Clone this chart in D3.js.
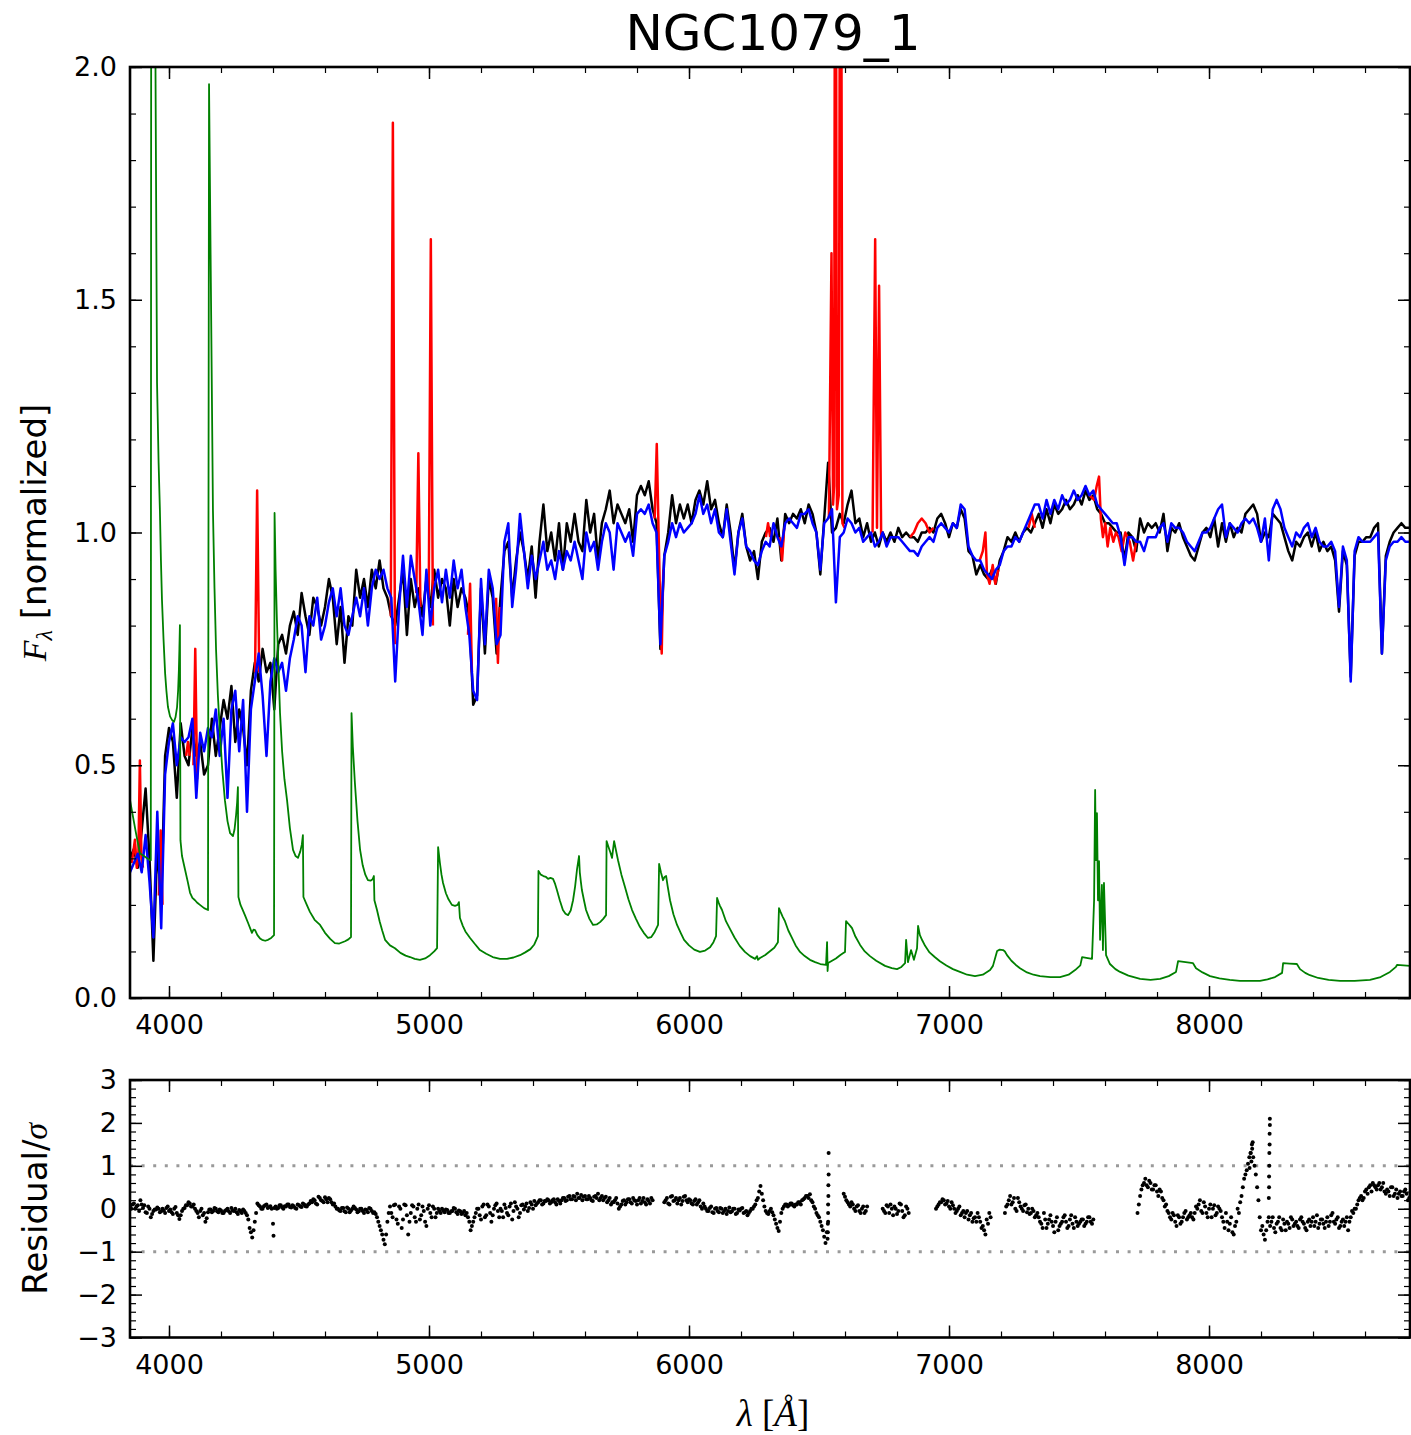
<!DOCTYPE html>
<html>
<head>
<meta charset="utf-8">
<script src="https://cdn.jsdelivr.net/npm/d3@7"></script>
<style>
  html, body { margin: 0; padding: 0; background: #fff; }
  svg { display: block; }
</style>
</head>
<body>
<svg id="chart" width="1411" height="1435"></svg>
<script>
// ---------------------------------------------------------------
// Spectral fit of NGC1079_1: observed spectrum, stellar fit, gas
// emission fit, noise spectrum and normalised residuals.
// ---------------------------------------------------------------

// Wavelength grid of the observed spectrum and stellar fit [Angstrom]
const waveStart = 3850;
const waveStep = 15;

// Observed spectrum (normalised flux)
const observedFlux = [
  0.30,0.32,0.28,0.36,0.45,0.30,0.08,0.33,0.20,0.52,
  0.58,0.55,0.43,0.59,0.52,0.50,0.58,0.52,0.55,0.48,
  0.50,0.60,0.52,0.58,0.64,0.60,0.67,0.55,0.62,0.58,
  0.50,0.66,0.72,0.68,0.75,0.70,0.72,0.62,0.76,0.78,
  0.74,0.80,0.83,0.78,0.87,0.82,0.78,0.86,0.84,0.80,
  0.84,0.90,0.86,0.76,0.84,0.72,0.82,0.80,0.92,0.86,
  0.90,0.84,0.92,0.88,0.94,0.88,0.86,0.82,0.80,0.86,
  0.92,0.78,0.90,0.84,0.88,0.82,0.90,0.84,0.92,0.86,
  0.90,0.88,0.80,0.90,0.84,0.88,0.86,0.82,0.63,0.65,
  0.88,0.74,0.90,0.86,0.74,0.86,0.96,0.98,0.86,0.94,
  1.00,0.96,0.90,0.97,0.86,0.98,1.06,0.96,1.00,0.94,
  1.02,0.92,1.02,0.98,1.04,0.98,0.96,1.07,1.00,1.04,
  0.94,1.02,1.05,1.09,1.02,1.06,1.04,1.02,1.05,0.98,
  1.08,1.10,1.08,1.11,1.05,1.02,0.75,0.95,1.00,1.08,
  1.02,1.06,1.03,1.06,1.02,1.07,1.09,1.06,1.11,1.05,
  1.07,1.02,0.99,1.06,1.00,0.92,1.00,1.04,0.97,0.94,
  0.96,0.90,0.98,1.00,1.01,0.98,1.03,0.94,1.04,1.02,
  1.04,1.03,1.05,1.02,1.06,1.04,1.00,0.91,1.03,1.15,
  1.00,1.01,1.04,1.02,1.06,1.09,1.02,1.03,0.99,1.02,
  0.98,1.00,0.97,1.00,0.98,1.00,0.98,1.01,0.99,1.00,
  0.99,0.99,0.98,1.00,1.00,1.01,1.00,1.03,1.04,1.02,
  0.99,1.02,1.01,1.05,1.03,0.96,0.95,0.91,0.93,0.91,
  0.90,0.92,0.89,0.94,0.96,0.99,0.98,1.00,0.98,1.00,
  1.01,1.00,1.02,1.04,1.01,1.05,1.02,1.06,1.04,1.05,
  1.07,1.05,1.06,1.08,1.06,1.09,1.07,1.08,1.05,1.04,
  1.02,1.02,1.01,1.00,1.00,0.94,1.00,0.99,0.96,1.03,
  1.00,1.02,1.01,1.02,1.00,1.04,0.96,1.01,1.00,1.02,
  0.99,0.97,0.95,0.94,0.97,1.00,1.01,0.99,1.03,0.97,
  1.02,0.98,1.02,0.99,1.01,1.00,1.04,1.05,1.06,1.04,
  0.98,1.00,0.99,1.04,1.03,1.02,0.99,0.96,0.94,0.98,
  0.97,0.99,1.00,0.97,1.00,0.96,0.98,0.96,0.97,0.94,
  0.83,0.96,0.93,0.69,0.95,0.98,0.98,0.99,0.99,1.01,
  1.02,0.74,0.95,0.98,1.00,1.01,1.02,1.01,1.01
];

// Best-fitting stellar continuum (same grid)
const stellarFit = [
  0.27,0.29,0.31,0.27,0.35,0.25,0.13,0.40,0.15,0.48,
  0.55,0.59,0.50,0.56,0.55,0.56,0.60,0.43,0.57,0.53,
  0.58,0.56,0.62,0.52,0.60,0.43,0.62,0.66,0.53,0.64,
  0.40,0.62,0.68,0.74,0.65,0.52,0.68,0.73,0.70,0.72,
  0.66,0.73,0.77,0.82,0.80,0.70,0.82,0.80,0.86,0.77,
  0.80,0.85,0.88,0.82,0.88,0.80,0.78,0.82,0.86,0.82,
  0.88,0.80,0.88,0.92,0.90,0.92,0.88,0.86,0.68,0.84,
  0.95,0.84,0.95,0.90,0.85,0.78,0.92,0.80,0.88,0.92,
  0.85,0.92,0.86,0.94,0.88,0.92,0.84,0.78,0.66,0.64,
  0.90,0.76,0.92,0.88,0.76,0.78,0.98,1.02,0.84,0.92,
  1.04,0.96,0.88,0.95,0.90,0.94,0.98,0.92,0.94,0.90,
  0.96,0.92,0.96,0.94,0.98,0.94,0.90,1.00,0.96,0.98,
  0.92,0.98,1.02,1.00,0.92,1.02,1.00,0.98,1.00,0.95,
  1.04,1.05,1.04,1.06,1.02,1.00,0.76,0.95,0.98,1.02,
  0.99,1.02,1.00,1.01,1.02,1.04,1.08,1.04,1.06,1.02,
  1.05,1.00,0.99,1.05,0.98,0.91,1.00,1.03,0.97,0.96,
  0.94,0.93,0.96,0.98,0.97,1.02,0.99,0.97,1.02,1.03,
  1.02,1.01,1.04,1.04,1.05,1.02,1.00,0.92,1.02,1.03,
  1.05,0.85,0.99,1.00,1.03,1.02,1.00,1.01,0.98,0.99,
  1.00,0.97,0.98,1.00,0.97,0.99,0.99,0.99,0.98,0.97,
  0.96,0.96,0.95,0.97,0.98,0.99,0.98,1.01,1.02,1.01,
  1.00,1.02,1.01,1.06,1.05,0.97,0.95,0.94,0.94,0.92,
  0.91,0.90,0.92,0.93,0.96,0.97,0.97,0.99,0.98,1.00,
  1.02,1.04,1.06,1.06,1.03,1.07,1.04,1.07,1.05,1.08,
  1.06,1.07,1.09,1.07,1.08,1.10,1.08,1.09,1.06,1.05,
  1.04,1.03,1.02,1.02,0.99,0.93,0.99,0.99,0.98,0.98,
  0.96,0.99,0.99,0.99,1.01,1.02,0.98,1.02,1.01,1.01,
  1.00,0.98,0.97,0.96,0.98,1.00,1.00,1.01,1.03,1.05,
  1.06,0.99,1.02,1.01,1.00,1.02,1.03,1.02,1.03,1.01,
  0.98,1.03,0.94,1.05,1.07,1.05,1.01,0.99,0.97,1.00,
  0.99,1.01,1.02,0.99,1.01,0.98,0.97,0.97,0.98,0.96,
  0.84,0.97,0.94,0.68,0.96,0.99,0.98,0.98,0.98,0.99,
  1.00,0.74,0.94,0.97,0.98,0.98,0.99,0.98,0.98
];

// Total fit (stars + gas) around the emission lines, [wavelength, flux]
const gasFitSegments = [
  [[3856,0.29],[3862,0.31],[3869,0.34],[3876,0.28],[3882,0.30],[3888,0.51],[3894,0.30],[3900,0.28]],
  [[3961,0.22],[3968,0.36],[3975,0.20]],
  [[4066,0.52],[4073,0.55],[4080,0.52]],
  [[4094,0.50],[4101,0.75],[4108,0.47]],
  [[4331,0.70],[4339,1.09],[4347,0.70]],
  [[4853,0.82],[4861,1.88],[4869,0.76]],
  [[4951,0.87],[4959,1.17],[4967,0.84]],
  [[4999,0.86],[5007,1.63],[5015,0.80]],
  [[5150,0.78],[5158,0.89],[5165,0.70]],
  [[5258,0.86],[5265,0.72],[5272,0.84]],
  [[5868,1.03],[5876,1.19],[5883,1.00],[5889,0.85],[5895,0.74],[5901,0.92]],
  [[6296,0.99],[6304,1.02],[6312,0.99]],
  [[6350,0.99],[6358,0.94],[6366,1.01]],
  [[6538,1.03],[6548,1.60],[6554,1.06],[6558,1.10],[6563,3.00],[6569,1.05],[6576,1.08],[6583,3.00],[6590,1.02],[6598,1.01]],
  [[6706,1.00],[6716,1.63],[6723,1.01],[6731,1.53],[6739,0.99]],
  [[6850,0.99],[6865,1.00],[6880,1.02],[6895,1.03],[6910,1.02],[6925,1.00],[6940,1.01]],
  [[7118,0.94],[7130,0.96],[7140,1.00],[7146,0.91],[7156,0.89],[7168,0.93],[7178,0.89],[7190,0.92]],
  [[7306,1.01],[7318,1.04],[7330,1.01]],
  [[7540,1.08],[7558,1.07],[7568,1.10],[7577,1.12],[7584,1.03],[7592,0.99],[7601,1.02],[7610,0.97],
   [7620,1.01],[7632,0.98],[7642,1.00],[7652,0.99],[7664,0.96],[7678,1.00],[7695,0.98],[7708,0.94],[7720,0.98]]
];

// Noise spectrum, [wavelength, flux]
const noiseSpectrum = [
  [3850,0.425],[3873,0.354],[3888,0.311],[3927,0.296],[3930,0.296],[3932,2.8],[3941,2.8],[3954,1.321],
  [3960,1.15],[3965,1.048],[3969,0.94],[3973,0.855],[3979,0.77],[3985,0.698],[3990,0.66],[3996,0.625],
  [4004,0.605],[4012,0.597],[4019,0.593],[4025,0.603],[4031,0.625],[4035,0.66],[4038,0.705],[4040,0.75],
  [4042,0.801],[4044,0.339],[4050,0.305],[4062,0.275],[4072,0.25],[4081,0.226],[4090,0.215],[4100,0.21],
  [4110,0.204],[4119,0.2],[4135,0.193],[4150,0.189],[4154,1.963],[4169,1.048],[4175,0.88],[4181,0.748],
  [4188,0.65],[4196,0.569],[4205,0.49],[4215,0.425],[4225,0.38],[4235,0.354],[4246,0.348],[4252,0.362],
  [4258,0.393],[4262,0.42],[4265,0.453],[4267,0.217],[4275,0.20],[4283,0.19],[4292,0.178],[4305,0.16],
  [4319,0.14],[4325,0.147],[4331,0.146],[4340,0.135],[4350,0.128],[4358,0.125],[4370,0.123],[4381,0.125],
  [4393,0.129],[4404,0.135],[4406,1.042],[4410,0.92],[4415,0.812],[4421,0.71],[4427,0.612],[4435,0.53],
  [4444,0.47],[4454,0.425],[4465,0.365],[4477,0.318],[4487,0.305],[4496,0.301],[4505,0.315],[4511,0.33],
  [4515,0.35],[4517,0.217],[4530,0.2],[4542,0.185],[4560,0.168],[4581,0.157],[4600,0.14],[4620,0.127],
  [4638,0.118],[4655,0.117],[4677,0.122],[4690,0.126],[4700,0.131],[4702,0.612],[4707,0.54],[4715,0.462],
  [4725,0.38],[4735,0.318],[4745,0.285],[4755,0.265],[4765,0.253],[4775,0.252],[4783,0.255],[4788,0.262],
  [4790,0.21],[4800,0.189],[4810,0.165],[4820,0.145],[4831,0.125],[4850,0.113],[4869,0.107],[4890,0.097],
  [4910,0.091],[4927,0.088],[4945,0.084],[4965,0.082],[4985,0.085],[5004,0.092],[5020,0.1],[5031,0.107],
  [5035,0.324],[5042,0.29],[5048,0.265],[5054,0.247],[5065,0.225],[5075,0.212],[5088,0.2],[5100,0.198],
  [5110,0.2],[5115,0.206],[5119,0.172],[5130,0.155],[5140,0.143],[5158,0.129],[5175,0.117],[5196,0.103],
  [5220,0.095],[5245,0.088],[5273,0.084],[5300,0.084],[5325,0.087],[5350,0.092],[5370,0.098],[5390,0.105],
  [5405,0.115],[5419,0.133],[5421,0.273],[5430,0.265],[5440,0.262],[5450,0.26],[5458,0.256],[5467,0.258],
  [5477,0.256],[5485,0.245],[5492,0.232],[5503,0.21],[5515,0.189],[5525,0.181],[5535,0.178],[5545,0.188],
  [5554,0.21],[5562,0.24],[5569,0.275],[5577,0.305],[5580,0.27],[5584,0.25],[5588,0.232],[5596,0.21],
  [5604,0.189],[5617,0.17],[5631,0.157],[5645,0.158],[5658,0.163],[5670,0.17],[5681,0.178],[5683,0.337],
  [5690,0.325],[5698,0.312],[5704,0.301],[5708,0.32],[5712,0.337],[5718,0.32],[5727,0.296],[5740,0.265],
  [5754,0.238],[5767,0.212],[5781,0.189],[5796,0.17],[5811,0.153],[5826,0.14],[5842,0.129],[5855,0.131],
  [5868,0.142],[5881,0.157],[5885,0.288],[5892,0.27],[5900,0.253],[5906,0.26],[5912,0.262],[5918,0.24],
  [5927,0.21],[5940,0.18],[5954,0.157],[5968,0.14],[5981,0.125],[6000,0.113],[6020,0.104],[6042,0.099],
  [6062,0.102],[6081,0.109],[6094,0.12],[6104,0.133],[6108,0.215],[6114,0.205],[6119,0.198],[6127,0.189],
  [6142,0.165],[6158,0.148],[6175,0.13],[6195,0.112],[6215,0.099],[6235,0.09],[6254,0.084],[6262,0.09],
  [6265,0.082],[6273,0.086],[6292,0.092],[6310,0.1],[6328,0.108],[6342,0.12],[6346,0.193],[6352,0.185],
  [6360,0.175],[6369,0.165],[6382,0.145],[6396,0.129],[6410,0.113],[6427,0.099],[6445,0.09],[6465,0.082],
  [6485,0.077],[6505,0.073],[6527,0.071],[6531,0.12],[6533,0.058],[6535,0.075],[6550,0.08],[6565,0.085],
  [6581,0.092],[6592,0.096],[6600,0.099],[6604,0.165],[6612,0.16],[6620,0.155],[6627,0.15],[6640,0.132],
  [6658,0.114],[6676,0.1],[6696,0.09],[6720,0.08],[6754,0.069],[6780,0.064],[6800,0.062],[6815,0.066],
  [6831,0.075],[6835,0.125],[6842,0.077],[6854,0.103],[6865,0.082],[6877,0.107],[6881,0.155],[6888,0.135],
  [6897,0.124],[6908,0.112],[6925,0.098],[6945,0.088],[6965,0.079],[6990,0.07],[7015,0.062],[7042,0.056],
  [7070,0.05],[7100,0.047],[7130,0.05],[7158,0.06],[7169,0.069],[7185,0.101],[7195,0.104],[7208,0.103],
  [7215,0.1],[7223,0.092],[7240,0.08],[7257,0.071],[7273,0.064],[7300,0.055],[7325,0.05],[7350,0.047],
  [7390,0.045],[7427,0.045],[7460,0.05],[7485,0.06],[7505,0.07],[7512,0.088],[7550,0.084],[7558,0.21],
  [7562,0.447],[7565,0.296],[7569,0.397],[7573,0.21],[7577,0.294],[7581,0.125],[7588,0.243],[7592,0.103],
  [7596,0.247],[7604,0.092],[7619,0.073],[7640,0.062],[7658,0.056],[7690,0.048],[7735,0.041],[7775,0.039],
  [7812,0.041],[7845,0.047],[7873,0.056],[7881,0.079],[7910,0.077],[7938,0.075],[7950,0.064],[7975,0.055],
  [8004,0.047],[8040,0.042],[8080,0.039],[8119,0.037],[8160,0.037],[8196,0.037],[8225,0.04],[8254,0.045],
  [8281,0.054],[8285,0.075],[8310,0.074],[8338,0.073],[8350,0.062],[8370,0.054],[8388,0.049],[8420,0.043],
  [8460,0.039],[8504,0.037],[8560,0.037],[8619,0.039],[8660,0.045],[8696,0.056],[8719,0.067],[8723,0.071],
  [8777,0.069]
];

// Residuals (data - fit)/sigma, one block per unmasked range, 10 A step
const residualStep = 10;
const residualSegments = [
  { start: 3850, values: [
    0.05,0.10,0.00,0.08,0.20,0.02,-0.08,0.05,-0.20,-0.05,
    -0.02,0.00,-0.06,-0.04,0.02,-0.05,-0.08,0.00,-0.10,-0.24,-0.05,
    0.02,0.08,0.12,0.05,0.00,
    -0.10,-0.05,-0.15,-0.30,-0.08,-0.02,
    -0.05,0.00,-0.08,-0.04,-0.10,-0.03,-0.06,0.02,-0.05,-0.08,-0.03,-0.10,-0.05,-0.15,
    -0.45,-0.67,-0.30,0.12,
    0.05,0.00,0.08,0.02,0.06,
    -0.35,
    0.05,0.02,0.08,0.00,0.05,0.10,0.03,0.06,0.00,0.08,0.04,0.10,0.05,0.12,
    0.15,0.20,0.10,0.25,0.18,0.27,0.15,0.22,0.10,0.05,
    0.00,-0.05,0.02,-0.08,0.00,-0.04,0.05,-0.02,-0.06,0.00,-0.10,-0.03,0.02,-0.05,-0.08,-0.20,
    -0.40,-0.60,-0.83,-0.30,
    0.05,-0.20,0.10,-0.35,0.00,-0.25,0.08,-0.60,-0.10,0.05,-0.30,0.10,-0.15,-0.05,-0.40,0.08,-0.20,0.00,-0.10,
    -0.05,0.00,-0.08,-0.03,-0.10,-0.05,0.00,-0.12,-0.06,-0.10,-0.15,-0.20,
    -0.50,-0.30,-0.10,
    0.00,-0.25,0.10,-0.15,0.05,-0.30,0.00,0.12,-0.20,-0.05,0.10,-0.10,0.05,-0.25,0.15,0.00,-0.10,0.10,0.05,-0.05,0.15,0.00,0.08,
    0.15,0.20,0.12,0.18,0.20,0.15,0.22,0.10,0.18,0.20,
    0.25,0.20,0.30,0.22,0.28,0.35,0.25,0.20,0.30,0.22,0.25,0.18,0.30,0.35,0.25,0.20,0.28,
    0.20,0.10,0.15,0.25,0.00,0.10,0.20,0.15,0.22,0.12,0.20,0.10,0.25,0.18,0.15,0.22,0.12,0.20 ] },
  { start: 3855, values: [
    0.00,0.12,0.05,-0.05,0.10,0.08,-0.10,0.00,-0.12,-0.02,
    0.03,-0.08,0.00,-0.10,0.05,-0.02,-0.12,0.04,-0.15,-0.15,0.00,
    0.08,0.15,0.05,0.10,-0.05,
    -0.20,0.00,-0.10,-0.22,-0.02,-0.08,
    0.02,-0.06,-0.02,-0.10,-0.05,0.00,-0.10,-0.04,0.00,-0.12,-0.06,-0.02,-0.10,-0.25,
    -0.55,-0.50,-0.10,0.08,
    0.00,0.06,0.10,0.04,0.00,
    0.02,
    0.00,0.08,0.03,0.06,0.10,0.04,0.08,0.02,0.10,0.05,0.12,0.06,0.10,0.18,
    0.22,0.12,0.28,0.20,0.15,0.22,0.25,0.15,0.12,0.00,
    -0.04,0.02,-0.06,0.03,-0.08,0.00,0.02,-0.08,0.00,-0.05,-0.02,-0.08,0.00,-0.10,-0.12,-0.30,
    -0.50,-0.72,-0.60,-0.10,
    -0.10,0.08,-0.25,0.05,-0.45,0.10,-0.15,-0.30,0.08,-0.20,0.00,-0.25,0.05,-0.30,0.00,-0.10,0.05,-0.20,0.00,
    -0.10,-0.04,-0.02,-0.10,-0.06,0.02,-0.08,-0.04,-0.12,-0.05,-0.10,-0.30,
    -0.40,-0.20,0.00,
    -0.15,0.05,-0.20,0.10,-0.10,-0.15,0.08,-0.05,0.00,-0.20,0.02,-0.15,0.12,-0.05,0.05,-0.20,0.08,-0.02,0.12,0.02,0.10,0.18,0.12,
    0.20,0.10,0.18,0.22,0.12,0.20,0.15,0.22,0.12,0.25,
    0.18,0.28,0.22,0.30,0.20,0.25,0.32,0.28,0.22,0.30,0.20,0.28,0.25,0.20,0.30,0.25,0.15,
    0.25,0.15,0.20,0.12,0.05,0.18,0.10,0.22,0.15,0.25,0.18,0.20,0.12,0.25,0.10,0.18,0.25 ] },
  { start: 5905, values: [
    0.15,0.25,0.10,0.30,0.20,0.12,0.25,0.18,0.30,0.15,0.20,0.10,0.22,0.15,0.05,0.12,
    0.00,-0.05,0.05,-0.10,0.02,-0.08,0.00,-0.05,-0.12,0.03,-0.06,0.00,-0.10,-0.04,0.02,-0.08,-0.15,-0.05,0.00,0.10,0.25,
    0.53,
    0.20,-0.05,-0.12,
    0.00,-0.15,-0.35,-0.52,
    -0.10,0.05,0.10,0.08,0.12,0.05,0.10,0.15,0.20,0.25,
    0.30,0.34,0.15,
    0.00,-0.15,-0.30,-0.50,-0.80,-0.30 ] },
  { start: 5910, values: [
    0.20,0.12,0.28,0.18,0.25,0.20,0.10,0.28,0.20,0.22,0.12,0.18,0.10,0.20,0.00,0.05,
    -0.05,0.02,-0.08,0.00,-0.05,0.02,-0.10,0.00,-0.05,-0.08,0.00,-0.12,-0.02,0.00,-0.10,-0.05,-0.10,0.00,0.05,0.20,0.40,
    0.35,
    0.05,-0.10,-0.05,
    -0.08,-0.25,-0.45,-0.30,
    0.00,0.10,0.05,0.12,0.08,0.10,0.15,0.10,0.22,0.30,
    0.25,0.20,0.05,
    -0.10,-0.20,-0.40,-0.65,-0.55 ] },
  { start: 6595, values: [0.35,0.20,0.10,0.15,0.00,0.05,-0.05,0.00,-0.10,0.05] },
  { start: 6600, values: [0.28,0.15,0.05,0.10,-0.05,0.08,-0.10,0.05,-0.05] },
  { start: 6745, values: [0.00,-0.10,0.05,0.10,-0.15,0.00,-0.05,0.10,-0.20,0.05,-0.10] },
  { start: 6750, values: [-0.05,0.08,-0.10,0.00,0.05,-0.12,0.12,-0.05,-0.15,0.00] },
  { start: 6950, values: [
    0.00,0.10,0.15,0.20,0.12,0.05,0.15,0.00,-0.05,0.05,-0.10,-0.20,-0.05,-0.15,-0.30,-0.20,
    -0.10,-0.30,-0.40,-0.60,-0.35,-0.20 ] },
  { start: 6955, values: [
    0.05,0.15,0.22,0.10,0.18,0.00,0.08,-0.10,0.00,-0.15,-0.05,-0.10,-0.25,-0.10,-0.22,-0.30,
    -0.20,-0.45,-0.50,-0.25,-0.10 ] },
  { start: 7215, values: [
    -0.10,0.10,0.30,0.15,0.00,0.25,0.05,-0.05,0.10,0.00,-0.10,-0.05,-0.15,
    -0.20,-0.35,-0.10,-0.45,-0.25,-0.30,-0.55,-0.20,-0.40,-0.30,-0.15,-0.45,-0.25,-0.35,-0.20,
    -0.40,-0.30,-0.25,-0.35,-0.20,-0.30,-0.25 ] },
  { start: 7220, values: [
    0.05,0.20,0.10,0.25,-0.05,0.15,0.00,0.08,-0.08,-0.12,0.00,-0.20,-0.10,-0.30,-0.45,-0.25,
    -0.35,-0.15,-0.40,-0.30,-0.50,-0.35,-0.20,-0.30,-0.40,-0.15,-0.45,-0.30,-0.35,-0.25,-0.40,
    -0.30,-0.20,-0.35 ] },
  { start: 7725, values: [
    -0.10,0.30,0.55,0.70,0.50,0.60,
    0.45,0.55,0.30,0.40,0.20,
    0.10,-0.10,-0.25,-0.15,-0.40,-0.20,-0.30,-0.10,-0.25,-0.15,-0.20,-0.10,
    0.00,0.20,-0.10,0.05,-0.20,0.10,0.00,-0.15,0.05,-0.05,-0.30,-0.10,
    -0.50,-0.20,-0.60,-0.30,-0.10,
    0.30,0.70,0.90,1.20,1.50,
    1.00,0.50,-0.20,-0.40,-0.72,
    -0.30,
    -0.40,-0.20,-0.55,-0.30,-0.45,-0.25,-0.50,-0.35,-0.20,-0.40,
    -0.30,-0.45,-0.20,-0.35,-0.50,-0.25,-0.30,-0.40,-0.15,-0.35,-0.25,-0.45,-0.20,-0.30,-0.10,
    -0.35,-0.20,-0.40,-0.25,-0.30,-0.50,-0.20,-0.10,
    0.00,0.20,0.30,0.25,0.45,0.50,0.40,0.55,0.45,0.60,0.50,0.40,
    0.45,0.30,0.50,0.35,0.25,0.40,0.30,0.45,0.20,0.30 ] },
  { start: 7730, values: [
    0.10,0.45,0.60,0.55,0.65,0.45,
    0.55,0.40,0.45,0.25,0.05,
    -0.05,-0.20,-0.10,-0.30,-0.15,-0.35,-0.20,-0.05,-0.20,-0.10,-0.25,0.05,
    0.10,-0.05,0.15,-0.10,0.00,-0.20,0.08,-0.10,0.00,-0.20,-0.45,-0.30,
    -0.35,-0.55,-0.40,0.00,0.15,
    0.50,0.80,1.05,1.30,1.20,
    0.80,0.20,-0.50,-0.60,-0.50,
    -0.20,
    -0.30,-0.45,-0.35,-0.20,-0.50,-0.35,-0.30,-0.45,-0.25,-0.35,
    -0.40,-0.25,-0.30,-0.45,-0.30,-0.40,-0.20,-0.30,-0.45,-0.25,-0.35,-0.30,-0.40,-0.15,-0.30,
    -0.25,-0.45,-0.30,-0.40,-0.20,-0.30,-0.05,0.00,
    0.10,0.25,0.20,0.40,0.35,0.55,0.60,0.50,0.55,0.45,0.60,0.35,
    0.40,0.50,0.30,0.45,0.35,0.30,0.40,0.35,0.25 ] }
];

// Extra residual points where the sampling is dense around sharp features
const residualExtra = [
  [4402,-0.63],
  [6533,-0.70],[6534,-0.55],[6534,-0.35],[6535,-0.10],[6535,0.10],[6536,0.30],[6536,0.55],[6537,0.80],[6537,1.30],
  [8156,0.95],[8160,1.30],[8163,1.10],[8166,1.40],[8168,1.55],
  [8230,0.25],[8231,0.50],[8231,0.75],[8232,1.00],[8232,1.30],[8233,1.50],[8233,1.75],[8234,1.95],[8234,2.10]
];

// Axis ticks
const waveMajorTicks = [4000, 5000, 6000, 7000, 8000];
const waveMinorTicks = d3.range(4000, 8773, 200);
const fluxMajorTicks = [0, 0.5, 1.0, 1.5, 2.0];
const fluxMinorTicks = d3.range(0, 2.001, 0.1);
const residMajorTicks = [-3, -2, -1, 0, 1, 2, 3];
const residMinorTicks = d3.range(-3, 3.001, 0.2);
const residBands = [-1, 1];

// ---------------------------------------------------------------
const svg = d3.select("#chart");
svg.append("rect").attr("width", 1411).attr("height", 1435).attr("fill", "#fff");

const plotLeft = 130, plotRight = 1410;
const top1 = 67, bottom1 = 998;
const top2 = 1080, bottom2 = 1337.5;

const x = d3.scaleLinear().domain([3850, 8773]).range([plotLeft, plotRight]);
const yFlux = d3.scaleLinear().domain([0, 2]).range([bottom1, top1]);
const yRes = d3.scaleLinear().domain([-3, 3]).range([bottom2, top2]);

const defs = svg.append("defs");
defs.append("clipPath").attr("id", "clipTop")
  .append("rect").attr("x", plotLeft).attr("y", top1)
  .attr("width", plotRight - plotLeft).attr("height", bottom1 - top1);
defs.append("clipPath").attr("id", "clipBottom")
  .append("rect").attr("x", plotLeft).attr("y", top2)
  .attr("width", plotRight - plotLeft).attr("height", bottom2 - top2);

// ---- spectrum panel ----
const gridPts = arr => arr.map((v, i) => [waveStart + i * waveStep, v]);
const fluxLine = d3.line().x(d => x(d[0])).y(d => yFlux(d[1]));

const specG = svg.append("g").attr("clip-path", "url(#clipTop)");
const lineStyle = sel => sel.attr("fill", "none")
  .attr("stroke-linejoin", "round").attr("stroke-linecap", "butt");

specG.append("path").datum(gridPts(observedFlux)).attr("d", fluxLine)
  .call(lineStyle).attr("stroke", "#000").attr("stroke-width", 2.5);

specG.selectAll("path.gas").data(gasFitSegments).join("path")
  .attr("class", "gas").attr("d", fluxLine)
  .call(lineStyle).attr("stroke", "#ff0000").attr("stroke-width", 2.5);

specG.append("path").datum(gridPts(stellarFit)).attr("d", fluxLine)
  .call(lineStyle).attr("stroke", "#0000ff").attr("stroke-width", 2.5);

specG.append("path").datum(noiseSpectrum).attr("d", fluxLine)
  .call(lineStyle).attr("stroke", "#008000").attr("stroke-width", 1.8);

// ---- residual panel ----
const resG = svg.append("g").attr("clip-path", "url(#clipBottom)");
resG.selectAll("line.band").data(residBands).join("line")
  .attr("class", "band")
  .attr("x1", plotLeft).attr("x2", plotRight)
  .attr("y1", d => yRes(d)).attr("y2", d => yRes(d))
  .attr("stroke", "#9a9a9a").attr("stroke-width", 3)
  .attr("stroke-dasharray", "3,8.6");

const residualPoints = residualSegments.flatMap(s =>
  s.values.map((v, i) => [s.start + i * residualStep, v])).concat(residualExtra);

resG.selectAll("circle.res").data(residualPoints).join("circle")
  .attr("class", "res")
  .attr("cx", d => x(d[0])).attr("cy", d => yRes(d[1]))
  .attr("r", 2.0).attr("fill", "#000");

// ---- frames, ticks and labels ----
const tickFont = "'DejaVu Sans', sans-serif";

function styleAxis(g, width) {
  g.select(".domain").remove();
  g.selectAll(".tick line").attr("stroke", "#000").attr("stroke-width", width);
  g.selectAll(".tick text").attr("fill", "#000")
    .attr("font-family", tickFont).attr("font-size", 27);
  g.attr("font-family", null).attr("font-size", null);
}

function drawFrame(yScale, yMajor, yMinor, yFormat, top, bottom) {
  const g = svg.append("g");
  // bottom
  g.append("g").attr("transform", `translate(0,${bottom})`)
    .call(d3.axisBottom(x).tickValues(waveMinorTicks).tickSize(-6).tickSizeOuter(0).tickFormat(""))
    .call(s => styleAxis(s, 1.2));
  g.append("g").attr("transform", `translate(0,${bottom})`)
    .call(d3.axisBottom(x).tickValues(waveMajorTicks).tickSize(-12).tickSizeOuter(0)
      .tickPadding(17).tickFormat(d3.format("d")))
    .call(s => styleAxis(s, 1.5));
  // top
  g.append("g").attr("transform", `translate(0,${top})`)
    .call(d3.axisTop(x).tickValues(waveMinorTicks).tickSize(-6).tickSizeOuter(0).tickFormat(""))
    .call(s => styleAxis(s, 1.2));
  g.append("g").attr("transform", `translate(0,${top})`)
    .call(d3.axisTop(x).tickValues(waveMajorTicks).tickSize(-12).tickSizeOuter(0).tickFormat(""))
    .call(s => styleAxis(s, 1.5));
  // left
  g.append("g").attr("transform", `translate(${plotLeft},0)`)
    .call(d3.axisLeft(yScale).tickValues(yMinor).tickSize(-6).tickSizeOuter(0).tickFormat(""))
    .call(s => styleAxis(s, 1.2));
  g.append("g").attr("transform", `translate(${plotLeft},0)`)
    .call(d3.axisLeft(yScale).tickValues(yMajor).tickSize(-12).tickSizeOuter(0)
      .tickPadding(13).tickFormat(yFormat))
    .call(s => styleAxis(s, 1.5));
  // right
  g.append("g").attr("transform", `translate(${plotRight},0)`)
    .call(d3.axisRight(yScale).tickValues(yMinor).tickSize(-6).tickSizeOuter(0).tickFormat(""))
    .call(s => styleAxis(s, 1.2));
  g.append("g").attr("transform", `translate(${plotRight},0)`)
    .call(d3.axisRight(yScale).tickValues(yMajor).tickSize(-12).tickSizeOuter(0).tickFormat(""))
    .call(s => styleAxis(s, 1.5));
  // spines
  g.append("rect").attr("x", plotLeft).attr("y", top)
    .attr("width", plotRight - plotLeft).attr("height", bottom - top)
    .attr("fill", "none").attr("stroke", "#000").attr("stroke-width", 2.6);
}

drawFrame(yFlux, fluxMajorTicks, fluxMinorTicks, d3.format(".1f"), top1, bottom1);
drawFrame(yRes, residMajorTicks, residMinorTicks, d3.format("d"), top2, bottom2);

// Title
svg.append("text").attr("x", 773).attr("y", 50)
  .attr("text-anchor", "middle").attr("font-family", tickFont)
  .attr("font-size", 50).attr("fill", "#000").text("NGC1079_1");

// Y label of spectrum panel: F_lambda [normalized]
const yl1 = svg.append("text")
  .attr("transform", `translate(46,${(top1 + bottom1) / 2}) rotate(-90)`)
  .attr("text-anchor", "middle").attr("font-size", 34).attr("fill", "#000");
yl1.append("tspan").attr("font-family", "'Liberation Serif', serif")
  .attr("font-style", "italic").text("F");
yl1.append("tspan").attr("font-family", "'Liberation Serif', serif")
  .attr("font-style", "italic").attr("font-size", 24).attr("dy", 6).text("λ");
yl1.append("tspan").attr("font-family", tickFont).attr("dy", -6).text(" [normalized]");

// Y label of residual panel
const yl2 = svg.append("text")
  .attr("transform", `translate(47,${(top2 + bottom2) / 2}) rotate(-90)`)
  .attr("text-anchor", "middle").attr("font-size", 34).attr("fill", "#000");
yl2.append("tspan").attr("font-family", tickFont).text("Residual/");
yl2.append("tspan").attr("font-family", "'Liberation Serif', serif")
  .attr("font-style", "italic").text("σ");

// X label
const xl = svg.append("text").attr("x", (plotLeft + plotRight) / 2 + 3).attr("y", 1426)
  .attr("text-anchor", "middle").attr("font-size", 37).attr("fill", "#000")
  .attr("font-family", "'Liberation Serif', serif");
xl.append("tspan").attr("font-style", "italic").text("λ");
xl.append("tspan").text(" [");
xl.append("tspan").attr("font-style", "italic").text("Å");
xl.append("tspan").text("]");
</script>
</body>
</html>
